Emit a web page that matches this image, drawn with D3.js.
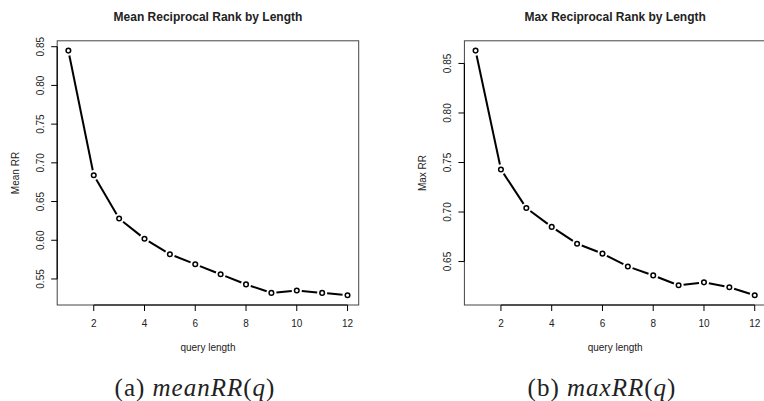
<!DOCTYPE html>
<html>
<head>
<meta charset="utf-8">
<script src="https://d3js.org/d3.v7.min.js"></script>
<style>
  body { margin: 0; background: #fff; }
  text { font-family: "Liberation Sans", Arial, sans-serif; fill: #222; }
</style>
</head>
<body>
<svg id="chart" width="764" height="401"></svg>
<script>
// query lengths and the two series
var queryLength = [1, 2, 3, 4, 5, 6, 7, 8, 9, 10, 11, 12];
var meanRR = [0.845, 0.684, 0.628, 0.602, 0.582, 0.569, 0.556, 0.543, 0.532, 0.535, 0.532, 0.529];
var maxRR  = [0.863, 0.743, 0.704, 0.685, 0.668, 0.658, 0.645, 0.636, 0.626, 0.629, 0.624, 0.616];
var xTicks = [2, 4, 6, 8, 10, 12];
var meanTicks = [0.55, 0.60, 0.65, 0.70, 0.75, 0.80, 0.85];
var maxTicks = [0.65, 0.70, 0.75, 0.80, 0.85];

var svg = d3.select("#chart");

// R style: pad the range by 4% on each side
function pad(ext) {
    var d = (ext[1] - ext[0]) * 0.04;
    return [ext[0] - d, ext[1] + d];
}

function panel(opt) {
    var x = d3.scaleLinear().domain(pad(d3.extent(queryLength))).range([opt.left, opt.left + 301.5]);
    var y = d3.scaleLinear().domain(pad(d3.extent(opt.values))).range([305, 40.8]);
    var g = svg.append("g");

    // box
    g.append("rect")
        .attr("x", opt.left).attr("y", 40.8)
        .attr("width", 301.5).attr("height", 305 - 40.8)
        .attr("fill", "none").attr("stroke", "#444").attr("stroke-width", 1);

    // x axis
    g.append("line")
        .attr("x1", x(xTicks[0])).attr("x2", x(xTicks[xTicks.length - 1]))
        .attr("y1", 305).attr("y2", 305)
        .attr("stroke", "#000").attr("stroke-width", 1.2);
    g.selectAll(".xt").data(xTicks).enter().append("line")
        .attr("x1", function (d) { return x(d); }).attr("x2", function (d) { return x(d); })
        .attr("y1", 305).attr("y2", 311)
        .attr("stroke", "#000").attr("stroke-width", 1);
    g.selectAll(".xl").data(xTicks).enter().append("text")
        .attr("x", function (d) { return x(d); }).attr("y", 327)
        .attr("text-anchor", "middle").attr("font-size", 10)
        .text(function (d) { return d; });

    // y axis
    var yt = opt.ticks;
    g.append("line")
        .attr("x1", opt.left).attr("x2", opt.left)
        .attr("y1", y(yt[0])).attr("y2", y(yt[yt.length - 1]))
        .attr("stroke", "#000").attr("stroke-width", 1.2);
    g.selectAll(".yt").data(yt).enter().append("line")
        .attr("x1", opt.left - 6).attr("x2", opt.left)
        .attr("y1", function (d) { return y(d); }).attr("y2", function (d) { return y(d); })
        .attr("stroke", "#000").attr("stroke-width", 1);
    g.selectAll(".yl").data(yt).enter().append("text")
        .attr("transform", function (d) { return "translate(" + (opt.left - 13.5) + "," + y(d) + ") rotate(-90)"; })
        .attr("text-anchor", "middle").attr("font-size", 10)
        .text(function (d) { return d3.format(".2f")(d); });

    // titles
    g.append("text")
        .attr("x", opt.left + 150.75).attr("y", 20.5)
        .attr("text-anchor", "middle").attr("font-size", 12).attr("font-weight", "bold")
        .text(opt.title);
    g.append("text")
        .attr("x", opt.left + 150.75).attr("y", 351)
        .attr("text-anchor", "middle").attr("font-size", 10)
        .text("query length");
    g.append("text")
        .attr("transform", "translate(" + (opt.left - 38.5) + "," + 173 + ") rotate(-90)")
        .attr("text-anchor", "middle").attr("font-size", 10)
        .text(opt.ylab);

    // type = "b": segments with gaps around the points
    var pts = queryLength.map(function (q, i) { return [x(q), y(opt.values[i])]; });
    var gap = 5;
    for (var i = 0; i < pts.length - 1; i++) {
        var dx = pts[i + 1][0] - pts[i][0], dy = pts[i + 1][1] - pts[i][1];
        var len = Math.sqrt(dx * dx + dy * dy);
        var ux = dx / len, uy = dy / len;
        g.append("line")
            .attr("x1", pts[i][0] + ux * gap).attr("y1", pts[i][1] + uy * gap)
            .attr("x2", pts[i + 1][0] - ux * gap).attr("y2", pts[i + 1][1] - uy * gap)
            .attr("stroke", "#000").attr("stroke-width", 2);
    }
    g.selectAll(".pt").data(pts).enter().append("circle")
        .attr("cx", function (d) { return d[0]; }).attr("cy", function (d) { return d[1]; })
        .attr("r", 2.3)
        .attr("fill", "#fff").attr("stroke", "#000").attr("stroke-width", 1.5);

    // caption
    var cap = svg.append("text")
        .attr("x", opt.capX).attr("y", 396)
        .attr("text-anchor", "middle")
        .style("font-family", "'Liberation Serif', 'DejaVu Serif', serif")
        .style("letter-spacing", "1px")
        .attr("font-size", 25);
    cap.append("tspan").text(opt.capA + " ");
    cap.append("tspan").attr("font-style", "italic").text(opt.capB);
    cap.append("tspan").text("(");
    cap.append("tspan").attr("font-style", "italic").text("q");
    cap.append("tspan").text(")");
}

panel({ left: 57.2, values: meanRR, ticks: meanTicks, title: "Mean Reciprocal Rank by Length",
        ylab: "Mean RR", capX: 195, capA: "(a)", capB: "meanRR" });
panel({ left: 464.4, values: maxRR, ticks: maxTicks, title: "Max Reciprocal Rank by Length",
        ylab: "Max RR", capX: 602, capA: "(b)", capB: "maxRR" });
</script>
</body>
</html>
